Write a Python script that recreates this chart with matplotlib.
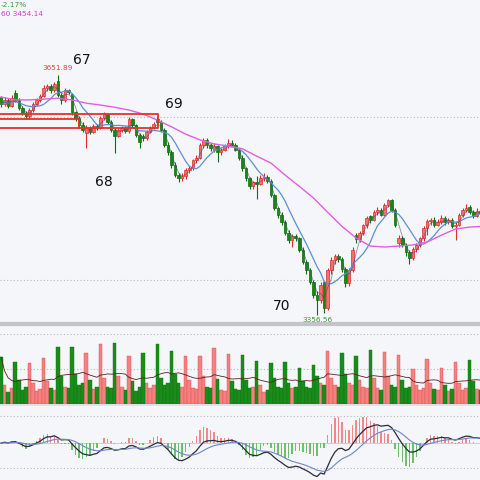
import numpy as np
import pandas as pd
import matplotlib
matplotlib.use("Agg")
import matplotlib.pyplot as plt

# ---------------- data (4 bars per trading day) ----------------
opens = [3624, 3616, 3621, 3614, 3629, 3621, 3611, 3605, 3601, 3609, 3616, 3621,
         3626, 3636, 3638, 3633, 3644, 3627, 3621, 3633, 3628, 3606, 3599, 3590,
         3580, 3587, 3582, 3589, 3587, 3599, 3604, 3594, 3584, 3577, 3584, 3587,
         3583, 3597, 3590, 3578, 3577, 3574, 3582, 3587, 3597, 3594, 3584, 3566,
         3557, 3541, 3529, 3525, 3528, 3535, 3537, 3547, 3550, 3566, 3572, 3566,
         3560, 3564, 3557, 3560, 3564, 3568, 3566, 3560, 3550, 3537, 3525, 3515,
         3520, 3518, 3525, 3527, 3522, 3504, 3488, 3480, 3471, 3458, 3449, 3454,
         3451, 3437, 3422, 3412, 3398, 3382, 3375, 3397, 3366, 3412, 3425, 3430,
         3426, 3413, 3396, 3412, 3455, 3450, 3458, 3467, 3478, 3474, 3483, 3486,
         3480, 3492, 3498, 3486, 3445, 3452, 3443, 3434, 3427, 3438, 3443, 3451,
         3464, 3472, 3474, 3468, 3471, 3476, 3471, 3474, 3466, 3468, 3480, 3486,
         3490, 3484, 3479, 3485]
highs = [3626, 3624, 3623, 3627, 3633, 3623, 3613, 3608, 3611, 3618, 3623, 3628,
         3639, 3641, 3640, 3643, 3651.89, 3630, 3636, 3635, 3630, 3608, 3601, 3594,
         3590, 3589, 3592, 3591, 3601, 3606, 3605, 3596, 3586, 3586, 3589, 3589,
         3600, 3599, 3592, 3580, 3579, 3584, 3589, 3594, 3600, 3596, 3586, 3569,
         3559, 3545, 3531, 3531, 3537, 3540, 3549, 3553, 3568, 3574, 3574, 3568,
         3568, 3566, 3562, 3567, 3573, 3572, 3568, 3562, 3553, 3539, 3527, 3522,
         3528, 3529, 3531, 3529, 3524, 3506, 3490, 3483, 3474, 3461, 3456, 3456,
         3453, 3440, 3425, 3415, 3400, 3386, 3398, 3399, 3415, 3428, 3432, 3432,
         3428, 3416, 3415, 3440, 3458, 3460, 3469, 3478, 3480, 3486, 3489, 3488,
         3494, 3500, 3500, 3488, 3455, 3454, 3445, 3437, 3440, 3445, 3453, 3466,
         3475, 3476, 3477, 3475, 3480, 3479, 3476, 3476, 3471, 3482, 3488, 3493,
         3492, 3486, 3488, 3487]
lows = [3612, 3614, 3611, 3612, 3619, 3609, 3602, 3598, 3598, 3606, 3613, 3618,
        3624, 3632, 3630, 3631, 3624, 3616, 3619, 3628, 3603, 3595, 3588, 3582,
        3562, 3579, 3580, 3584, 3585, 3596, 3592, 3582, 3556, 3575, 3582, 3581,
        3581, 3587, 3576, 3562, 3571, 3572, 3580, 3585, 3590, 3582, 3563, 3554,
        3538, 3526, 3520, 3522, 3524, 3531, 3535, 3543, 3548, 3562, 3562, 3558,
        3557, 3545, 3554, 3558, 3562, 3564, 3558, 3547, 3534, 3522, 3512, 3512,
        3500, 3516, 3522, 3519, 3502, 3486, 3476, 3468, 3455, 3446, 3440, 3448,
        3434, 3420, 3408, 3395, 3378, 3356.56, 3372, 3359, 3363, 3408, 3420, 3422,
        3410, 3392, 3393, 3410, 3446, 3447, 3455, 3464, 3470, 3472, 3480, 3478,
        3478, 3489, 3483, 3465, 3440, 3440, 3430, 3420, 3424, 3435, 3440, 3448,
        3455, 3468, 3465, 3466, 3469, 3468, 3469, 3464, 3449, 3466, 3477, 3483,
        3481, 3476, 3477, 3480]
closes = [3616, 3621, 3614, 3623, 3621, 3611, 3605, 3601, 3609, 3616, 3621, 3626,
          3636, 3638, 3633, 3641, 3627, 3621, 3633, 3631, 3606, 3599, 3590, 3584,
          3587, 3582, 3589, 3587, 3599, 3604, 3594, 3584, 3577, 3584, 3587, 3583,
          3597, 3590, 3578, 3569, 3574, 3582, 3587, 3591, 3594, 3584, 3566, 3557,
          3541, 3529, 3525, 3528, 3535, 3537, 3547, 3550, 3566, 3572, 3566, 3562,
          3564, 3557, 3560, 3564, 3568, 3566, 3560, 3550, 3537, 3525, 3515, 3520,
          3518, 3525, 3527, 3522, 3504, 3488, 3480, 3471, 3458, 3449, 3454, 3451,
          3437, 3422, 3412, 3398, 3382, 3375, 3394, 3366, 3412, 3425, 3430, 3426,
          3413, 3396, 3412, 3437, 3450, 3458, 3467, 3476, 3474, 3483, 3486, 3480,
          3492, 3498, 3486, 3467, 3452, 3443, 3434, 3427, 3438, 3443, 3451, 3464,
          3472, 3474, 3468, 3471, 3476, 3471, 3474, 3466, 3468, 3480, 3486, 3488,
          3484, 3479, 3485, 3482]
volumes = [1.34, 0.55, 0.35, 0.45, 1.20, 0.70, 0.40, 0.50, 1.17, 0.60, 0.38, 0.42,
           1.31, 0.65, 0.45, 0.40, 1.63, 0.80, 0.50, 0.45, 1.63, 0.85, 0.55, 0.60,
           1.46, 0.70, 0.42, 0.48, 1.71, 0.75, 0.50, 0.45, 1.74, 0.80, 0.48, 0.40,
           1.37, 0.65, 0.38, 0.50, 1.46, 0.60, 0.45, 0.55, 1.71, 0.75, 0.55, 0.60,
           1.51, 0.85, 0.60, 0.50, 1.37, 0.70, 0.45, 0.42, 1.37, 0.80, 0.50, 0.45,
           1.60, 0.72, 0.40, 0.38, 1.43, 0.65, 0.42, 0.40, 1.40, 0.70, 0.45, 0.50,
           1.23, 0.55, 0.35, 0.40, 1.17, 0.75, 0.50, 0.45, 1.20, 0.60, 0.45, 0.50,
           1.03, 0.65, 0.50, 0.45, 1.11, 0.80, 0.60, 0.55, 1.51, 0.75, 0.55, 0.50,
           1.46, 0.85, 0.60, 0.55, 1.37, 0.70, 0.50, 0.45, 1.54, 0.75, 0.45, 0.40,
           1.49, 0.80, 0.55, 0.50, 1.40, 0.70, 0.45, 0.48, 1.00, 0.55, 0.40, 0.45,
           1.29, 0.60, 0.42, 0.40, 1.03, 0.55, 0.38, 0.42, 1.20, 0.60, 0.40, 0.45,
           1.26, 0.65, 0.42, 0.40]
# MA60 read at the first bar of every day
ma60_daily = [3624.5, 3621, 3621, 3622, 3623, 3621, 3617, 3614.7, 3612, 3608.6,
              3603.7, 3596.3, 3588, 3579, 3572, 3567, 3564.4, 3561, 3552, 3543.6,
              3528.8, 3515, 3500.6, 3483, 3466, 3451.5, 3441.7, 3440.5, 3441.7,
              3443, 3446.6, 3455, 3462.6, 3465, 3466]
bars_per_day = 4

wave_labels = ["67", "68", "69", "70"]
high_label = "3651.89"
low_label = "3356.56"
box_levels = [3603.7, 3597.5, 3586.5]   # red boxes drawn on the chart
price_grid = [3400, 3600]

# ---------------- figure ----------------
BG = "#f5f6fa"
RED_F, RED_E = "#f47070", "#e02c2c"
GRN_F, GRN_E = "#148a14", "#0c6e0c"

fig = plt.figure(figsize=(4.8, 4.8), dpi=100)
fig.patch.set_facecolor("white")
H = 480.0
ax = fig.add_axes([0, 1 - 322 / H, 1, 322 / H])
axv = fig.add_axes([0, 1 - 404 / H, 1, 78 / H])
axm = fig.add_axes([0, 0, 1, 75 / H])
for a in (ax, axv, axm):
    a.set_facecolor(BG)
    for s in a.spines.values():
        s.set_visible(False)
    a.set_xticks([])
    a.set_yticks([])
    a.set_xlim(-0.3, 134.9)

n = len(closes)
x = np.arange(n)
o = np.array(opens, float); c = np.array(closes, float)
h = np.array(highs, float); l = np.array(lows, float)
up = c >= o

# price panel
for lev in price_grid:
    ax.axhline(lev, color="#b8b8b8", lw=0.8, ls=(0, (1, 2)), zorder=0)
ax.vlines(x[up], l[up], h[up], color=RED_E, lw=0.8, zorder=2)
ax.vlines(x[~up], l[~up], h[~up], color=GRN_E, lw=0.8, zorder=2)
body = np.maximum(np.abs(c - o), 0.6)
ax.bar(x[up], body[up], bottom=np.minimum(o, c)[up], width=0.72,
       color=RED_F, edgecolor=RED_E, lw=0.5, zorder=3)
ax.bar(x[~up], body[~up], bottom=np.minimum(o, c)[~up], width=0.72,
       color=GRN_F, edgecolor=GRN_E, lw=0.5, zorder=3)

cs = pd.Series(c)
ax.plot(x, cs.rolling(8, min_periods=1).mean(), color="#5b8fd8", lw=0.9, zorder=4)
ax.plot(x, cs.rolling(3, min_periods=1).mean(), color="#4a4a5a", lw=0.6, alpha=0.6, zorder=4)
ax.plot(np.arange(len(ma60_daily)) * bars_per_day, ma60_daily, color="#e060e0", lw=1.0, zorder=4)

# red boxes
bx_r = 157 / 3.55
bx_m = 78 / 3.55
ax.plot([-1, bx_r, bx_r, -1], [box_levels[0], box_levels[0], box_levels[2], box_levels[2]],
        color="#e8302c", lw=1.3, zorder=5)
ax.plot([-1, bx_m, bx_m], [box_levels[1], box_levels[1], box_levels[2]],
        color="#e8302c", lw=1.3, zorder=5)

ax.set_ylim(3348.5, 3743.6)

imax = int(np.argmax(h)); imin = int(np.argmin(l))
ax.text(imax, h[imax] + 4, high_label, color="#e04848", fontsize=5.3, ha="center", va="bottom")
ax.text(imin, l[imin] - 2, low_label, color="#3a9a3a", fontsize=5.3, ha="center", va="top")

def ftxt(px, py, s, **kw):
    fig.text(px / 480.0, 1 - py / 480.0, s, **kw)

ftxt(82, 60, wave_labels[0], fontsize=10, color="#111111", ha="center", va="center")
ftxt(104, 182, wave_labels[1], fontsize=10, color="#111111", ha="center", va="center")
ftxt(174, 104, wave_labels[2], fontsize=10, color="#111111", ha="center", va="center")
ftxt(282, 306, wave_labels[3], fontsize=10, color="#111111", ha="center", va="center")
ftxt(1, 5, "-2.17%", fontsize=5.3, color="#3a9a3a", ha="left", va="center")
ftxt(1, 14, "60 3454.14", fontsize=5.3, color="#d040d0", ha="left", va="center")

# separators
fig.add_artist(plt.Line2D([0, 1], [1 - 324 / H, 1 - 324 / H], color="#c4c4c8", lw=3))
fig.add_artist(plt.Line2D([0, 1], [1 - 405 / H, 1 - 405 / H], color="#dcdce0", lw=1.2))

# volume panel
vol = np.array(volumes)
for lev in (1.0, 2.0):
    axv.axhline(lev, color="#b8b8b8", lw=0.8, ls=(0, (1, 2)), zorder=0)
axv.bar(x[up], vol[up], width=1.0, color="#f58080", edgecolor="#e05050", lw=0.3, zorder=2)
axv.bar(x[~up], vol[~up], width=1.0, color="#1a8c1a", edgecolor="#127212", lw=0.3, zorder=2)
axv.plot(x, pd.Series(vol).rolling(4, min_periods=1).mean(), color="#5a2020", lw=0.6, zorder=3)
axv.set_ylim(0, 2.23)

# MACD panel
ema_f = cs.ewm(span=6, adjust=False).mean()
ema_s = cs.ewm(span=13, adjust=False).mean()
dif = ema_f - ema_s
dea = dif.ewm(span=9, adjust=False).mean()
hist = 2 * (dif - dea)
M = max(abs(dif.min()), abs(dif.max())) * 37.5 / 34
axm.set_ylim(-M, M * 1.03)
for lev in (0.72 * M, -0.68 * M):
    axm.axhline(lev, color="#b8b8b8", lw=0.8, ls=(0, (1, 2)), zorder=0)
axm.axhline(0, color="#c8c8c8", lw=0.6, zorder=1)
hp = hist.values >= 0
axm.bar(x[hp], hist.values[hp], width=0.4, color="#f08a8a", lw=0, zorder=2)
axm.bar(x[~hp], hist.values[~hp], width=0.4, color="#6cbf6c", lw=0, zorder=2)
axm.plot(x, dif, color="#2b2b3a", lw=0.9, zorder=3)
axm.plot(x, dea, color="#6f86c8", lw=0.8, zorder=3)

fig.savefig("out.png", dpi=100, facecolor="white")
